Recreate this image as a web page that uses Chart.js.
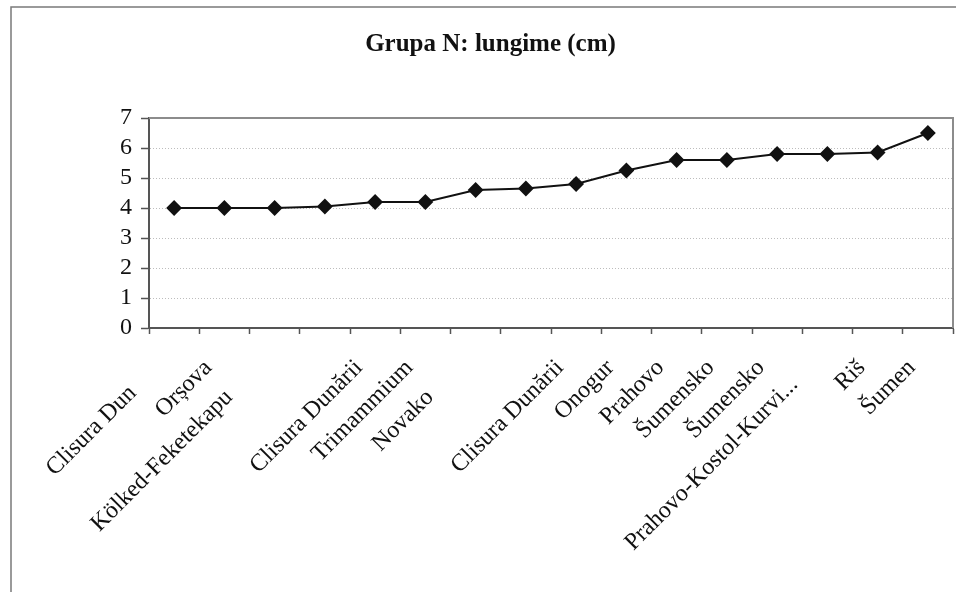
<!DOCTYPE html>
<html>
<head>
<meta charset="utf-8">
<script src="https://cdn.jsdelivr.net/npm/chart.js@4/dist/chart.umd.min.js"></script>
<style>
  html, body { margin: 0; padding: 0; background: #fff; }
  #wrap { width: 956px; height: 592px; }
</style>
</head>
<body>
<div id="wrap"><canvas id="grafic" width="956" height="592"></canvas></div>
<script>
// situri (categorii) și lungimi în cm
// spațiile de la final împing unele etichete mai jos, ca în original
const NB = '\u00a0';
const situri = [
    'Clisura Dun' + NB.repeat(6), 'Orșova', 'Kölked-Feketekapu' + NB.repeat(7), '', 'Clisura Dunării',
    'Trimammium', 'Novako' + NB.repeat(7), '', 'Clisura Dunării', 'Onogur', 'Prahovo', 'Šumensko',
    'Šumensko', 'Prahovo-Kostol-Kurvi...' + NB.repeat(4), 'Riš', 'Šumen',
];
const lungime = [4.0, 4.0, 4.0, 4.05, 4.2, 4.2, 4.6, 4.65, 4.8, 5.25, 5.6, 5.6, 5.8, 5.8, 5.85, 6.5];
const yTicks = [0, 1, 2, 3, 4, 5, 6, 7];

const serif = '"Liberation Serif", "Times New Roman", serif';

// rama exterioară + marginea de sus/dreapta a zonei de grafic
const rame = {
    id: 'rame',
    beforeDraw(chart) {
        const c = chart.ctx;
        c.save();
        c.strokeStyle = '#7a7a7a';
        c.lineWidth = 1.5;
        c.strokeRect(11, 7, 1000, 1000);
        c.restore();
    },
    beforeDatasetsDraw(chart) {
        const { ctx: c, chartArea: a } = chart;
        c.save();
        c.strokeStyle = '#8c8c8c';
        c.lineWidth = 2;
        c.beginPath();
        c.moveTo(a.left, a.top);
        c.lineTo(a.right, a.top);
        c.lineTo(a.right, a.bottom);
        c.stroke();
        c.restore();
    },
};

new Chart(document.getElementById('grafic'), {
    type: 'line',
    data: {
        labels: situri,
        datasets: [{
            data: lungime,
            borderColor: '#111',
            backgroundColor: '#111',
            borderWidth: 2,
            tension: 0,
            pointStyle: 'rectRot',
            pointRadius: 6.5,
            pointHoverRadius: 6.5,
        }],
    },
    options: {
        responsive: false,
        animation: false,
        layout: { autoPadding: false, padding: { left: 28, right: 3, top: 0, bottom: 0 } },
        plugins: {
            legend: { display: false },
            tooltip: { enabled: false },
            title: {
                display: true,
                text: 'Grupa N: lungime (cm)',
                color: '#111',
                font: { family: serif, size: 25, weight: 'bold', lineHeight: 1.2 },
                padding: { top: 30, bottom: 58 },
            },
        },
        scales: {
            x: {
                offset: true,
                grid: {
                    offset: true,
                    drawOnChartArea: false,
                    tickLength: 6,
                    tickColor: '#555',
                    tickWidth: 1.5,
                },
                border: { color: '#555', width: 2 },
                ticks: {
                    autoSkip: false,
                    maxRotation: 45,
                    minRotation: 45,
                    padding: 20,
                    labelOffset: -16,
                    color: '#111',
                    font: { family: serif, size: 24 },
                },
                afterFit: (s) => {
                    s.height = 264;
                    s.paddingLeft = 0;
                    s.paddingRight = 0;
                },
            },
            y: {
                min: 0,
                max: 7,
                afterBuildTicks: (s) => { s.ticks = yTicks.map((v) => ({ value: v })); },
                grid: {
                    color: (c) => (c.tick && (c.tick.value === 7 || c.tick.value === 0) ? 'rgba(0,0,0,0)' : '#bdbdbd'),
                    lineWidth: 1,
                    tickLength: 8,
                    tickColor: '#555',
                    tickWidth: 1.5,
                    tickBorderDash: [],
                },
                border: { color: '#555', width: 2, dash: [1, 2] },
                ticks: {
                    autoSkip: false,
                    padding: 9,
                    color: '#111',
                    font: { family: serif, size: 24 },
                },
                afterFit: (s) => { s.width = 121; },
            },
        },
    },
    plugins: [rame],
});
</script>
</body>
</html>
